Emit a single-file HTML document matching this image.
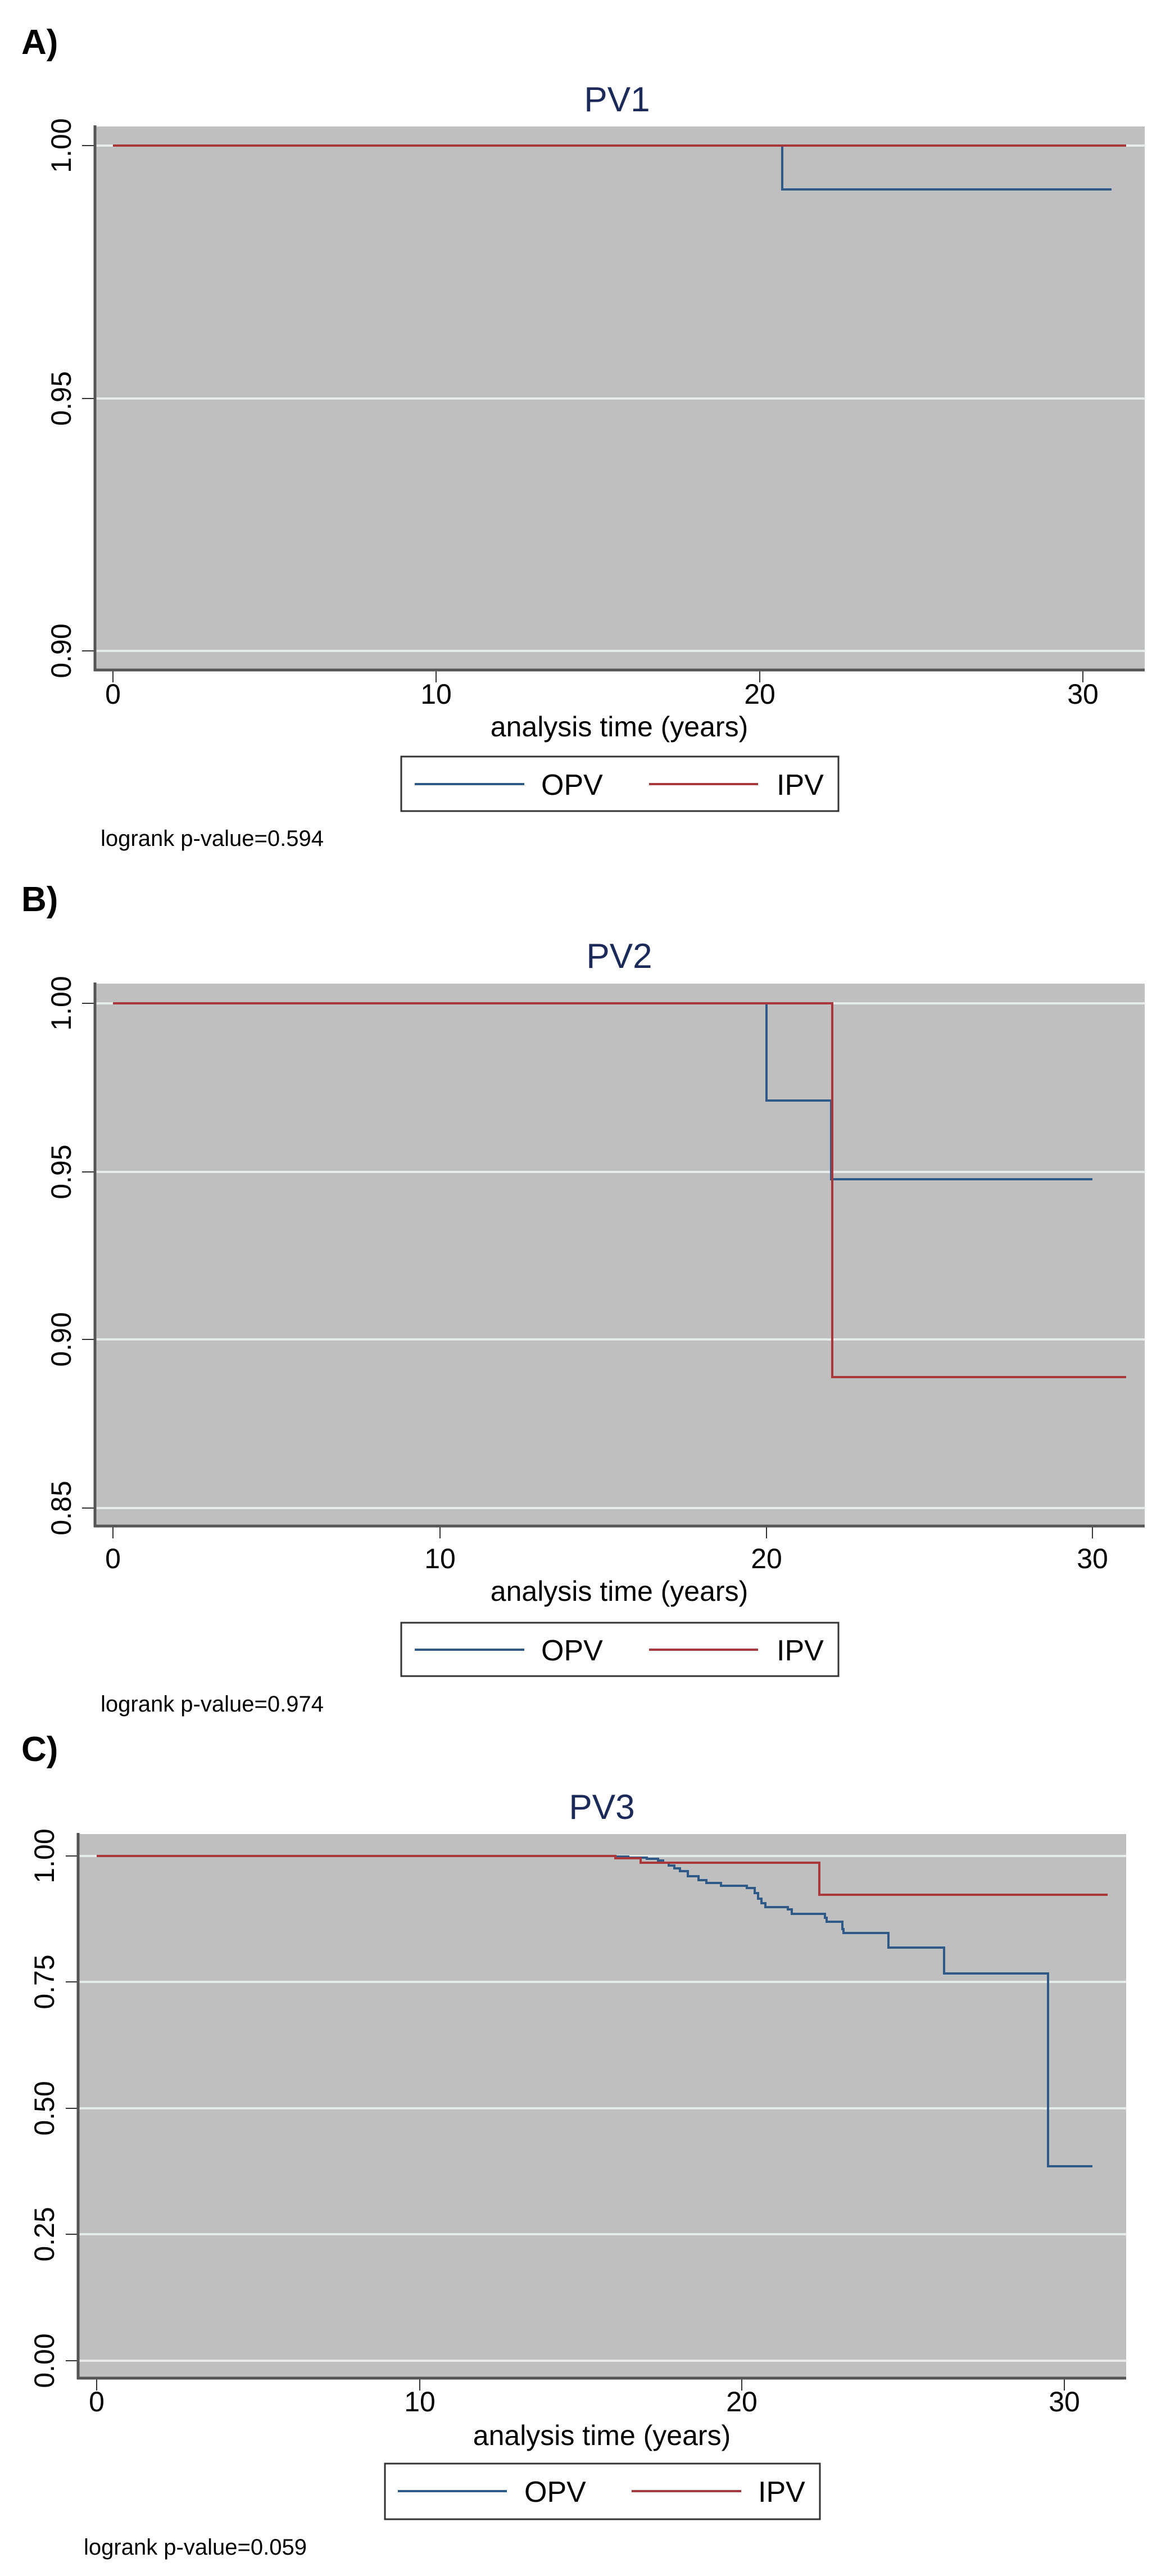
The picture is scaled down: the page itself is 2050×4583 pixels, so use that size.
<!DOCTYPE html>
<html><head><meta charset="utf-8"><style>html,body{margin:0;padding:0;background:#fff}svg{display:block}</style></head>
<body>
<svg xmlns="http://www.w3.org/2000/svg" width="2050" height="4583" viewBox="0 0 2050 4583" font-family="Liberation Sans, sans-serif">
<rect width="2050" height="4583" fill="#fff"/>

<!-- ===== Panel A ===== -->
<text x="38" y="96" font-size="62" font-weight="bold" fill="#000">A)</text>
<text x="1098" y="198" font-size="62" fill="#1c2a5a" text-anchor="middle">PV1</text>
<rect x="169" y="225" width="1868" height="967" fill="#bfbfbf"/>
<g stroke="#e6ecec" stroke-width="4">
<line x1="169" y1="259" x2="2037" y2="259"/><line x1="169" y1="709" x2="2037" y2="709"/><line x1="169" y1="1158" x2="2037" y2="1158"/>
</g>
<g stroke="#333" stroke-width="2">
<line x1="146" y1="259" x2="169" y2="259"/><line x1="146" y1="709" x2="169" y2="709"/><line x1="146" y1="1158" x2="169" y2="1158"/>
<line x1="201" y1="1192" x2="201" y2="1214"/><line x1="776" y1="1192" x2="776" y2="1214"/><line x1="1352" y1="1192" x2="1352" y2="1214"/><line x1="1927" y1="1192" x2="1927" y2="1214"/>
</g>
<line x1="169" y1="223" x2="169" y2="1194" stroke="#555" stroke-width="5"/>
<line x1="167" y1="1192" x2="2037" y2="1192" stroke="#555" stroke-width="5"/>
<g font-size="50" fill="#000" text-anchor="middle">
<text transform="translate(126,259) rotate(-90)">1.00</text>
<text transform="translate(126,709) rotate(-90)">0.95</text>
<text transform="translate(126,1158) rotate(-90)">0.90</text>
<text x="201" y="1252">0</text><text x="776" y="1252">10</text><text x="1352" y="1252">20</text><text x="1927" y="1252">30</text>
<text x="1102" y="1310">analysis time (years)</text>
</g>
<path d="M201,259 H1392 V337 H1978" fill="none" stroke="#2f5a87" stroke-width="4"/>
<path d="M201,259 H2004" fill="none" stroke="#a8383c" stroke-width="4"/>
<rect x="714" y="1346" width="778" height="97" fill="#fff" stroke="#333" stroke-width="3"/>
<line x1="738" y1="1395" x2="933" y2="1395" stroke="#2f5a87" stroke-width="4"/>
<line x1="1155" y1="1395" x2="1349" y2="1395" stroke="#a8383c" stroke-width="4"/>
<text x="963" y="1414" font-size="52">OPV</text>
<text x="1382" y="1414" font-size="52">IPV</text>
<text x="179" y="1505" font-size="40">logrank p-value=0.594</text>

<!-- ===== Panel B ===== -->
<text x="38" y="1621" font-size="62" font-weight="bold" fill="#000">B)</text>
<text x="1102" y="1722" font-size="62" fill="#1c2a5a" text-anchor="middle">PV2</text>
<rect x="169" y="1750" width="1868" height="965" fill="#bfbfbf"/>
<g stroke="#e6ecec" stroke-width="4">
<line x1="169" y1="1785" x2="2037" y2="1785"/><line x1="169" y1="2085" x2="2037" y2="2085"/><line x1="169" y1="2383" x2="2037" y2="2383"/><line x1="169" y1="2683" x2="2037" y2="2683"/>
</g>
<g stroke="#333" stroke-width="2">
<line x1="146" y1="1785" x2="169" y2="1785"/><line x1="146" y1="2085" x2="169" y2="2085"/><line x1="146" y1="2383" x2="169" y2="2383"/><line x1="146" y1="2683" x2="169" y2="2683"/>
<line x1="201" y1="2715" x2="201" y2="2737"/><line x1="783" y1="2715" x2="783" y2="2737"/><line x1="1364" y1="2715" x2="1364" y2="2737"/><line x1="1944" y1="2715" x2="1944" y2="2737"/>
</g>
<line x1="169" y1="1748" x2="169" y2="2717" stroke="#555" stroke-width="5"/>
<line x1="167" y1="2715" x2="2037" y2="2715" stroke="#555" stroke-width="5"/>
<g font-size="50" fill="#000" text-anchor="middle">
<text transform="translate(126,1785) rotate(-90)">1.00</text>
<text transform="translate(126,2085) rotate(-90)">0.95</text>
<text transform="translate(126,2383) rotate(-90)">0.90</text>
<text transform="translate(126,2683) rotate(-90)">0.85</text>
<text x="201" y="2790">0</text><text x="783" y="2790">10</text><text x="1364" y="2790">20</text><text x="1944" y="2790">30</text>
<text x="1102" y="2848">analysis time (years)</text>
</g>
<path d="M201,1785 H1364 V1958 H1479 V2098 H1944" fill="none" stroke="#2f5a87" stroke-width="4"/>
<path d="M201,1785 H1481 V2450 H2004" fill="none" stroke="#a8383c" stroke-width="4"/>
<rect x="714" y="2887" width="778" height="95" fill="#fff" stroke="#333" stroke-width="3"/>
<line x1="738" y1="2935" x2="933" y2="2935" stroke="#2f5a87" stroke-width="4"/>
<line x1="1155" y1="2935" x2="1349" y2="2935" stroke="#a8383c" stroke-width="4"/>
<text x="963" y="2954" font-size="52">OPV</text>
<text x="1382" y="2954" font-size="52">IPV</text>
<text x="179" y="3045" font-size="40">logrank p-value=0.974</text>

<!-- ===== Panel C ===== -->
<text x="38" y="3133" font-size="62" font-weight="bold" fill="#000">C)</text>
<text x="1071" y="3236" font-size="62" fill="#1c2a5a" text-anchor="middle">PV3</text>
<rect x="139" y="3263" width="1865" height="968" fill="#bfbfbf"/>
<g stroke="#e6ecec" stroke-width="4">
<line x1="139" y1="3302" x2="2004" y2="3302"/><line x1="139" y1="3526" x2="2004" y2="3526"/><line x1="139" y1="3751" x2="2004" y2="3751"/><line x1="139" y1="3975" x2="2004" y2="3975"/><line x1="139" y1="4200" x2="2004" y2="4200"/>
</g>
<g stroke="#333" stroke-width="2">
<line x1="117" y1="3302" x2="139" y2="3302"/><line x1="117" y1="3526" x2="139" y2="3526"/><line x1="117" y1="3751" x2="139" y2="3751"/><line x1="117" y1="3975" x2="139" y2="3975"/><line x1="117" y1="4200" x2="139" y2="4200"/>
<line x1="172" y1="4231" x2="172" y2="4253"/><line x1="747" y1="4231" x2="747" y2="4253"/><line x1="1320" y1="4231" x2="1320" y2="4253"/><line x1="1894" y1="4231" x2="1894" y2="4253"/>
</g>
<line x1="139" y1="3261" x2="139" y2="4233" stroke="#555" stroke-width="5"/>
<line x1="137" y1="4231" x2="2004" y2="4231" stroke="#555" stroke-width="5"/>
<g font-size="50" fill="#000" text-anchor="middle">
<text transform="translate(96,3302) rotate(-90)">1.00</text>
<text transform="translate(96,3526) rotate(-90)">0.75</text>
<text transform="translate(96,3751) rotate(-90)">0.50</text>
<text transform="translate(96,3975) rotate(-90)">0.25</text>
<text transform="translate(96,4200) rotate(-90)">0.00</text>
<text x="172" y="4290">0</text><text x="747" y="4290">10</text><text x="1320" y="4290">20</text><text x="1894" y="4290">30</text>
<text x="1071" y="4350">analysis time (years)</text>
</g>
<path d="M172,3302 H1095 V3303 H1118 V3305 H1151 V3307 H1171 V3310 H1180 V3314 H1190 V3319 H1200 V3324 H1210 V3329 H1224 V3338 H1243 V3345 H1257 V3350 H1283 V3355 H1329 V3359 H1343 V3368 H1349 V3378 H1355 V3386 H1362 V3393 H1402 V3397 H1409 V3405 H1468 V3412 H1471 V3419 H1499 V3432 H1501 V3439 H1581 V3465 H1680 V3511 H1865 V3854 H1944" fill="none" stroke="#2f5a87" stroke-width="4"/>
<path d="M172,3302 H1095 V3306 H1140 V3314 H1458 V3371 H1971" fill="none" stroke="#a8383c" stroke-width="4"/>
<rect x="685" y="4383" width="774" height="99" fill="#fff" stroke="#333" stroke-width="3"/>
<line x1="708" y1="4432" x2="902" y2="4432" stroke="#2f5a87" stroke-width="4"/>
<line x1="1124" y1="4432" x2="1319" y2="4432" stroke="#a8383c" stroke-width="4"/>
<text x="933" y="4451" font-size="52">OPV</text>
<text x="1349" y="4451" font-size="52">IPV</text>
<text x="149" y="4545" font-size="40">logrank p-value=0.059</text>
</svg>
</body></html>
